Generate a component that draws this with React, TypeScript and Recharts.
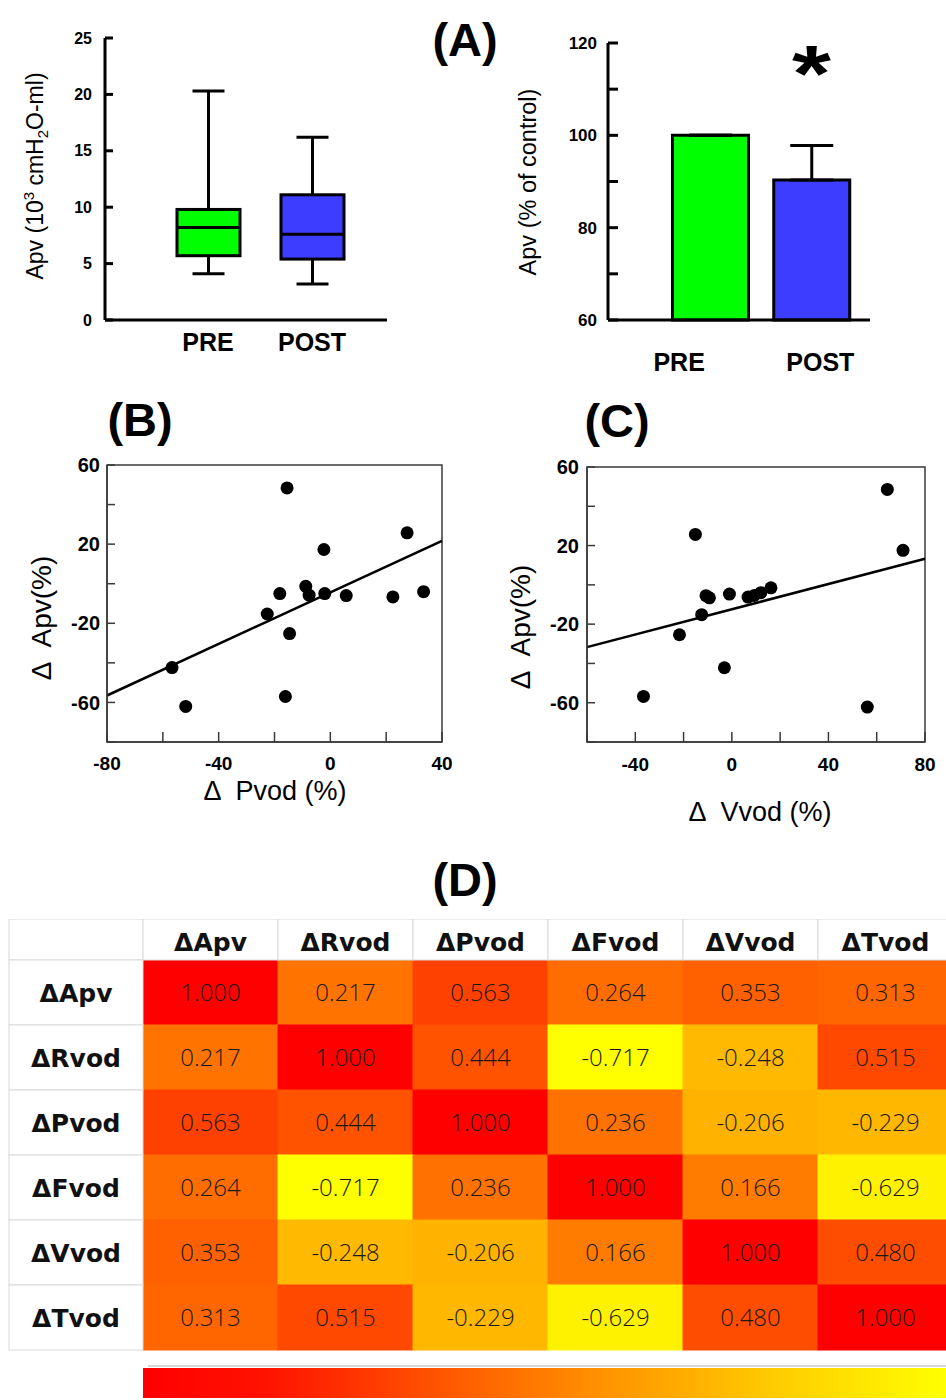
import React from "react";
import {
  Bar,
  BarChart,
  Cell,
  ErrorBar,
  ReferenceArea,
  ReferenceDot,
  ReferenceLine,
  Scatter,
  ScatterChart,
  XAxis,
  YAxis,
} from "recharts";

const SANS = '"Liberation Sans", Arial, sans-serif';
const FRAME = "#3a3a3a";

// (A) left - box plot of Apv, 10^3 cmH2O-ml
const boxGroups = ["PRE", "POST"];
const boxMin = [4.1, 3.2];
const boxQ1 = [5.7, 5.4];
const boxMedian = [8.2, 7.6];
const boxQ3 = [9.8, 11.1];
const boxMax = [20.3, 16.2];
const groupColors = ["#00FF00", "#3D3DFF"];

// (A) right - Apv as % of control
const pctMean = [100, 90.3];
const pctSem = [0, 7.5];
const pctTicks = [60, 70, 80, 90, 100, 110, 120];

// (B) delta Apv vs delta Pvod
const bPvod = [-15.5, 27.5, -2.3, -8.8, -7.6, -18.1, -2.0, 5.7, 22.4, 33.4, -22.6, -14.6, -56.7, -51.8, -16.1];
const bApv = [48.4, 25.7, 17.3, -1.3, -5.8, -5.0, -5.0, -6.0, -6.7, -4.0, -15.3, -25.2, -42.4, -62.0, -57.0];
const bFitX = [-80, 40];
const bFitY = [-56.5, 21.7];
const bTicks = [-80, -60, -40, -20, 0, 20, 40];

// (C) delta Apv vs delta Vvod
const cVvod = [64.4, 70.9, -15.1, -10.7, -9.3, -1.0, 6.7, 9.3, 12.0, 16.2, -12.5, -21.7, -3.1, -36.6, 56.1];
const cApv = [48.6, 17.6, 25.7, -5.5, -6.6, -4.7, -6.2, -5.4, -4.0, -1.5, -15.2, -25.4, -42.2, -56.8, -62.2];
const cFitX = [-60, 80];
const cFitY = [-31.7, 13.3];
const cTicks = [-60, -40, -20, 0, 20, 40, 60, 80];

const apvTicks = [-80, -60, -40, -20, 0, 20, 40, 60];

// (D) correlation matrix
const corrLabels = ["ΔApv", "ΔRvod", "ΔPvod", "ΔFvod", "ΔVvod", "ΔTvod"];
const corrMatrix = [
  [1.0, 0.217, 0.563, 0.264, 0.353, 0.313],
  [0.217, 1.0, 0.444, -0.717, -0.248, 0.515],
  [0.563, 0.444, 1.0, 0.236, -0.206, -0.229],
  [0.264, -0.717, 0.236, 1.0, 0.166, -0.629],
  [0.353, -0.248, -0.206, 0.166, 1.0, 0.48],
  [0.313, 0.515, -0.229, -0.629, 0.48, 1.0],
];

const boxData = boxGroups.map((name, i) => ({
  name,
  min: boxMin[i],
  q1: boxQ1[i],
  median: boxMedian[i],
  q3: boxQ3[i],
  max: boxMax[i],
  color: groupColors[i],
}));

const pctData = boxGroups.map((name, i) => ({ name, mean: pctMean[i], err: [0, pctSem[i]] }));

const bPoints = bPvod.map((x, i) => ({ x, y: bApv[i] }));
const cPoints = cVvod.map((x, i) => ({ x, y: cApv[i] }));

const flat = corrMatrix.flat();
const vMax = Math.max(...flat);
const vMin = Math.min(...flat);
const heatColor = (v: number) => `rgb(255,${Math.round((255 * (vMax - v)) / (vMax - vMin))},0)`;
const cellData = corrMatrix.flatMap((row, r) => row.map((v, c) => ({ x: c + 0.5, y: r + 0.5, v })));
const cellTicks = corrLabels.map((_, i) => i + 0.5);

const CELL_W = 135;
const CELL_H = 65;
const GRID = "#d9d9d9";

function BoxShape(props: any) {
  const { x, y, width, height, payload } = props;
  const h = Math.abs(height);
  const top = height < 0 ? y + height : y;
  const ppu = h / (payload.q3 - payload.q1);
  const yOf = (v: number) => top + (payload.q3 - v) * ppu;
  const cx = x + width / 2;
  const cap = 16;
  return (
    <g stroke="#000" strokeWidth={3}>
      <line x1={cx} x2={cx} y1={yOf(payload.max)} y2={top} />
      <line x1={cx} x2={cx} y1={top + h} y2={yOf(payload.min)} />
      <line x1={cx - cap} x2={cx + cap} y1={yOf(payload.max)} y2={yOf(payload.max)} />
      <line x1={cx - cap} x2={cx + cap} y1={yOf(payload.min)} y2={yOf(payload.min)} />
      <rect x={x} y={top} width={width} height={h} fill={payload.color} />
      <line x1={x} x2={x + width} y1={yOf(payload.median)} y2={yOf(payload.median)} />
    </g>
  );
}

function PctTick(props: any) {
  const { x, y, payload, index } = props;
  const shift = [-31, 9][index] ?? 0; // labels sit a little off the bar centres in the original
  return (
    <text x={x + shift} y={y} dy="0.71em" textAnchor="middle" fill="#000" fontSize={25} fontWeight={700} fontFamily={SANS}>
      {payload.value}
    </text>
  );
}

function Asterisk(props: any) {
  const { viewBox } = props;
  const x = viewBox.x + viewBox.width / 2;
  const y = viewBox.y + viewBox.height / 2;
  return (
    <text
      transform={`translate(${x},${y}) scale(1.25,1)`}
      dy="0.5em"
      textAnchor="middle"
      fontSize={80}
      fontWeight={700}
      fontFamily={SANS}
      fill="#000"
    >
      *
    </text>
  );
}

const Dot = (p: any) => <circle cx={p.cx} cy={p.cy} r={6.5} fill="#000" />;

const fmt40 = (v: number) => (v % 40 === 0 ? String(v) : "");
const fmtApv = (v: number) => ((v + 60) % 40 === 0 && v !== -80 ? String(v) : "");
const boldTick = (size: number) => ({ fill: "#000", fontSize: size, fontWeight: 700, fontFamily: SANS });

function ScatterPanel(props: {
  left: number;
  top: number;
  width: number;
  height: number;
  margin: { top: number; right: number; bottom: number; left: number };
  xDomain: number[];
  xTicks: number[];
  points: { x: number; y: number }[];
  fitX: number[];
  fitY: number[];
  xTickMargin: number;
  yTickMargin: number;
}) {
  const { xDomain, fitX, fitY } = props;
  return (
    <div style={{ position: "absolute", left: props.left, top: props.top }}>
      <ScatterChart width={props.width} height={props.height} margin={props.margin}>
        <XAxis
          type="number"
          dataKey="x"
          domain={xDomain}
          ticks={props.xTicks}
          interval={0}
          height={40}
          tickFormatter={fmt40}
          tickSize={-10}
          tickMargin={props.xTickMargin}
          axisLine={{ stroke: FRAME, strokeWidth: 1.5 }}
          tickLine={{ stroke: FRAME, strokeWidth: 1.5 }}
          tick={boldTick(19)}
        />
        <YAxis
          type="number"
          dataKey="y"
          domain={[-80, 60]}
          ticks={apvTicks}
          interval={0}
          width={70}
          tickFormatter={fmtApv}
          tickSize={-8}
          tickMargin={props.yTickMargin}
          axisLine={{ stroke: FRAME, strokeWidth: 1.5 }}
          tickLine={{ stroke: FRAME, strokeWidth: 1.5 }}
          tick={boldTick(20)}
        />
        <ReferenceArea x1={xDomain[0]} x2={xDomain[1]} y1={-80} y2={60} fill="none" stroke={FRAME} strokeWidth={1.5} ifOverflow="visible" />
        <ReferenceLine
          segment={[
            { x: fitX[0], y: fitY[0] },
            { x: fitX[1], y: fitY[1] },
          ]}
          stroke="#000"
          strokeWidth={2.5}
          ifOverflow="visible"
        />
        <Scatter data={props.points} shape={Dot} isAnimationActive={false} />
      </ScatterChart>
    </div>
  );
}

function ColHeader(props: any) {
  const { x, y, payload, index } = props;
  const label = corrLabels[Math.floor(payload.value)];
  return (
    <g>
      {index === 0 && <rect x={x - CELL_W / 2 - 134} y={y - 41} width={134} height={41} fill="#fff" stroke={GRID} />}
      <rect x={x - CELL_W / 2} y={y - 41} width={CELL_W} height={41} fill="#fff" stroke={GRID} />
      <text x={x} y={y - 9} textAnchor="middle" fontSize={25} fontWeight={700} fontFamily='"DejaVu Sans", sans-serif' fill="#111">
        {label}
      </text>
    </g>
  );
}

function RowHeader(props: any) {
  const { x, y, payload } = props;
  const label = corrLabels[Math.floor(payload.value)];
  return (
    <g>
      <rect x={x - 134} y={y - CELL_H / 2} width={134} height={CELL_H} fill="#fff" stroke={GRID} />
      <text x={x - 67} y={y + 9} textAnchor="middle" fontSize={25} fontWeight={700} fontFamily='"DejaVu Sans", sans-serif' fill="#111">
        {label}
      </text>
    </g>
  );
}

function HeatCell(props: any) {
  const { cx, cy, payload } = props;
  const c = heatColor(payload.v);
  return (
    <g>
      <rect x={cx - CELL_W / 2} y={cy - CELL_H / 2} width={CELL_W} height={CELL_H} fill={c} stroke={c} />
      <text x={cx} y={cy} dy="0.36em" textAnchor="middle" fontSize={24} fontWeight={300} fontFamily='"Open Sans", sans-serif' fill="#1a1a1a">
        {payload.v.toFixed(3)}
      </text>
    </g>
  );
}

export default function App() {
  return (
    <div style={{ position: "absolute", left: 0, top: 0, width: 946, height: 1400, overflow: "hidden", background: "#fff", fontFamily: SANS }}>
      {/* (A) left: box plot */}
      <div style={{ position: "absolute", left: 0, top: 0 }}>
        <BarChart width={400} height={380} data={boxData} margin={{ top: 38, right: 13, bottom: 20, left: 45 }}>
          <XAxis
            dataKey="name"
            height={40}
            padding={{ left: 51, right: 23 }}
            axisLine={{ stroke: "#000", strokeWidth: 3 }}
            tickLine={false}
            tickSize={0}
            tickMargin={13}
            interval={0}
            tick={boldTick(25)}
          />
          <YAxis
            width={60}
            domain={[0, 25]}
            ticks={[0, 5, 10, 15, 20, 25]}
            interval={0}
            tickSize={-8}
            tickMargin={21}
            axisLine={{ stroke: "#000", strokeWidth: 3 }}
            tickLine={{ stroke: "#000", strokeWidth: 3 }}
            tick={boldTick(16)}
          />
          <Bar dataKey={(d: any) => [d.q1, d.q3]} barSize={63} shape={BoxShape} isAnimationActive={false} />
        </BarChart>
      </div>

      {/* (A) right: % of control */}
      <div style={{ position: "absolute", left: 480, top: 0 }}>
        <BarChart width={420} height={400} data={pctData} margin={{ top: 43, right: 30, bottom: 40, left: 68 }}>
          <XAxis
            dataKey="name"
            height={40}
            padding={{ left: 51.5, right: 8 }}
            axisLine={{ stroke: "#000", strokeWidth: 3 }}
            tickLine={false}
            tickSize={0}
            tickMargin={33}
            interval={0}
            tick={<PctTick />}
          />
          <YAxis
            width={60}
            domain={[60, 120]}
            ticks={pctTicks}
            interval={0}
            tickFormatter={(v: number) => (v % 20 === 0 ? String(v) : "")}
            tickSize={-10}
            tickMargin={21}
            axisLine={{ stroke: "#000", strokeWidth: 3 }}
            tickLine={{ stroke: "#000", strokeWidth: 3 }}
            tick={boldTick(17)}
          />
          <Bar dataKey="mean" barSize={76} stroke="#000" strokeWidth={3} isAnimationActive={false}>
            {pctData.map((d, i) => (
              <Cell key={d.name} fill={groupColors[i]} />
            ))}
            <ErrorBar dataKey="err" width={21.5} strokeWidth={3} stroke="#000" direction="y" isAnimationActive={false} />
          </Bar>
          <ReferenceDot x="POST" y={116} r={0} fill="none" stroke="none" label={<Asterisk />} />
        </BarChart>
      </div>

      {/* (B) */}
      <ScatterPanel
        left={0}
        top={450}
        width={470}
        height={370}
        margin={{ top: 15, right: 28, bottom: 38, left: 37 }}
        xDomain={[-80, 40]}
        xTicks={bTicks}
        points={bPoints}
        fitX={bFitX}
        fitY={bFitY}
        xTickMargin={25}
        yTickMargin={15}
      />

      {/* (C) */}
      <ScatterPanel
        left={480}
        top={450}
        width={466}
        height={380}
        margin={{ top: 17, right: 21, bottom: 48, left: 37 }}
        xDomain={[-60, 80]}
        xTicks={cTicks}
        points={cPoints}
        fitX={cFitX}
        fitY={cFitY}
        xTickMargin={26}
        yTickMargin={16}
      />

      {/* (D) correlation heatmap */}
      <div style={{ position: "absolute", left: 0, top: 919 }}>
        <ScatterChart width={960} height={440} margin={{ top: 0, right: 7, bottom: 9, left: 9 }}>
          <XAxis
            type="number"
            dataKey="x"
            orientation="top"
            domain={[0, 6]}
            ticks={cellTicks}
            interval={0}
            height={41}
            axisLine={false}
            tickLine={false}
            tickSize={0}
            tickMargin={0}
            tick={<ColHeader />}
          />
          <YAxis
            type="number"
            dataKey="y"
            domain={[0, 6]}
            reversed
            ticks={cellTicks}
            interval={0}
            width={134}
            axisLine={false}
            tickLine={false}
            tickSize={0}
            tickMargin={0}
            tick={<RowHeader />}
          />
          <Scatter data={cellData} shape={HeatCell} isAnimationActive={false} />
        </ScatterChart>
      </div>

      {/* panel letters, axis titles, colour bar */}
      <svg width={946} height={1400} style={{ position: "absolute", left: 0, top: 0, pointerEvents: "none" }} fontFamily={SANS}>
        <defs>
          <linearGradient id="heatbar" x1="0" x2="1" y1="0" y2="0">
            <stop offset="0%" stopColor="#ff0000" />
            <stop offset="15%" stopColor="#ff1200" />
            <stop offset="55%" stopColor="#ff8c00" />
            <stop offset="80%" stopColor="#ffcf00" />
            <stop offset="100%" stopColor="#ffff00" />
          </linearGradient>
        </defs>
        <g fontSize={47} fontWeight={700} textAnchor="middle" fill="#000">
          <text x={465} y={56}>(A)</text>
          <text x={140} y={436}>(B)</text>
          <text x={617} y={437}>(C)</text>
          <text x={465} y={896}>(D)</text>
        </g>
        <text transform="translate(35,176) rotate(-90)" textAnchor="middle" dy="0.35em" fontSize={23} fill="#000">
          Apv (10
          <tspan dy={-9} fontSize={15}>3</tspan>
          <tspan dy={9}> cmH</tspan>
          <tspan dy={5} fontSize={15}>2</tspan>
          <tspan dy={-5}>O-ml)</tspan>
        </text>
        <text transform="translate(528,182) rotate(-90)" textAnchor="middle" dy="0.35em" fontSize={23.5} fill="#000">
          Apv (% of control)
        </text>
        <text transform="translate(41,618) rotate(-90)" textAnchor="middle" dy="0.35em" fontSize={28} fill="#000">
          <tspan>Δ</tspan>
          <tspan dx={14}>Apv(%)</tspan>
        </text>
        <text transform="translate(520,627) rotate(-90)" textAnchor="middle" dy="0.35em" fontSize={28} fill="#000">
          <tspan>Δ</tspan>
          <tspan dx={14}>Apv(%)</tspan>
        </text>
        <text x={275} y={800} textAnchor="middle" fontSize={27} fill="#000">
          <tspan>Δ</tspan>
          <tspan dx={14}>Pvod (%)</tspan>
        </text>
        <text x={760} y={821} textAnchor="middle" fontSize={27} fill="#000">
          <tspan>Δ</tspan>
          <tspan dx={14}>Vvod (%)</tspan>
        </text>
        <line x1={148} x2={946} y1={1366} y2={1366} stroke="#c8c8c8" strokeWidth={1.5} />
        <rect x={143} y={1368} width={803} height={30} fill="url(#heatbar)" />
      </svg>
    </div>
  );
}
